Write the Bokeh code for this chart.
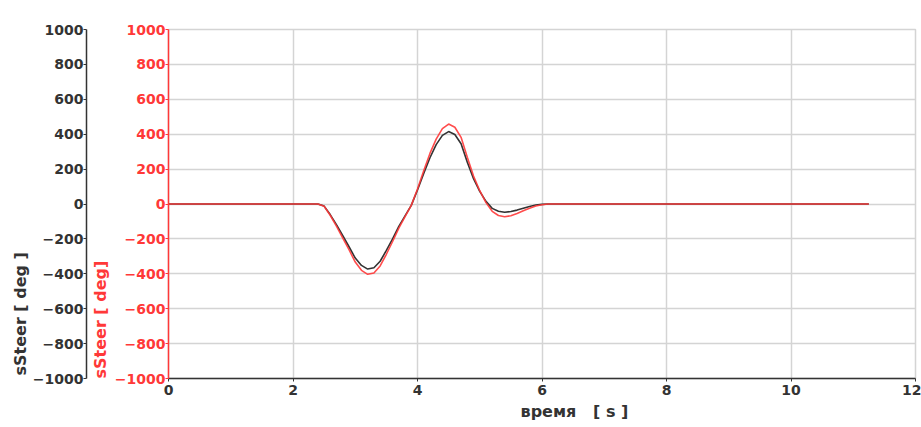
from bokeh.plotting import figure
from bokeh.models import LinearAxis, FixedTicker, Range1d, Title
from bokeh.embed import file_html
from bokeh.resources import INLINE

# time [s]
t = [0.0, 2.4, 2.5, 2.6, 2.7, 2.8, 2.9, 3.0, 3.1, 3.2, 3.3, 3.4, 3.5, 3.6, 3.7,
     3.8, 3.9, 4.0, 4.1, 4.2, 4.3, 4.4, 4.5, 4.6, 4.7, 4.8, 4.9, 5.0, 5.1,
     5.2, 5.3, 5.4, 5.5, 5.6, 5.7, 5.8, 5.9, 6.0, 6.1, 11.25]

# sSteer black series [deg]
steer_black = [0, 0, -12, -62, -120, -182, -245, -310, -352, -373, -365, -328,
               -266, -200, -128, -68, -8, 80, 175, 265, 340, 393, 415, 398,
               345, 240, 145, 72, 15, -25, -42, -47, -43, -35, -24, -14, -6,
               -2, 0, 0]

# sSteer red series [deg]
steer_red = [0, 0, -13, -66, -128, -195, -262, -333, -380, -403, -395, -355,
             -288, -215, -138, -72, -8, 86, 190, 290, 372, 432, 458, 440,
             382, 268, 160, 76, 8, -42, -66, -73, -67, -55, -39, -24, -11,
             -4, 0, 0]

x_ticks = [0, 2, 4, 6, 8, 10, 12]
y_ticks = [-1000, -800, -600, -400, -200, 0, 200, 400, 600, 800, 1000]
x_title = "время\u00a0\u00a0\u00a0[ s ]"
y_title_black = "sSteer [ deg ]"
y_title_red = "sSteer [ deg]"

RED = "#ff3838"
DARK = "#333333"
GRID = "#d4d4d4"
FONT = "DejaVu Sans"

p = figure(width=921, height=427, output_backend="svg",
           toolbar_location=None,
           x_range=Range1d(0, 12), y_range=Range1d(-1000, 1000),
           min_border_left=168, min_border_right=6, min_border_top=29,
           min_border_bottom=49)
p.background_fill_color = "white"
p.border_fill_color = "white"
p.outline_line_color = GRID
p.outline_line_width = 1.5

# grids
p.xgrid.ticker = FixedTicker(ticks=x_ticks)
p.ygrid.ticker = FixedTicker(ticks=y_ticks)
for g in (p.xgrid[0], p.ygrid[0]):
    g.grid_line_color = GRID
    g.grid_line_width = 1.5

# x axis
xa = p.xaxis[0]
xa.ticker = FixedTicker(ticks=x_ticks)
xa.major_label_text_font = FONT
xa.major_label_text_font_style = "bold"
xa.major_label_text_font_size = "14px"
xa.major_label_text_color = DARK
xa.major_label_text_align = "right"
xa.major_label_standoff = 3
xa.axis_line_color = DARK
xa.axis_line_width = 1.5
xa.major_tick_line_color = DARK
xa.major_tick_out = 3
xa.major_tick_in = 0
xa.minor_tick_line_color = None

p.add_layout(Title(text=x_title, align="left", offset=352, standoff=4,
                   text_font=FONT, text_font_style="bold",
                   text_font_size="16px", text_color=DARK), "below")

# inner (red) y axis
ra = p.yaxis[0]
p.add_layout(Title(text=y_title_red, align="left", offset=0, standoff=4,
                   text_font=FONT, text_font_style="bold",
                   text_font_size="16px", text_color=RED), "left")
# outer (black) y axis
ba = LinearAxis()
p.add_layout(ba, "left")
p.add_layout(Title(text=y_title_black, align="left", offset=3, standoff=0,
                   text_font=FONT, text_font_style="bold",
                   text_font_size="16px", text_color=DARK), "left")

for ax, col in ((ra, RED), (ba, DARK)):
    ax.ticker = FixedTicker(ticks=y_ticks)
    ax.major_label_text_font = FONT
    ax.major_label_text_font_style = "bold"
    ax.major_label_text_font_size = "14px"
    ax.major_label_text_color = col
    ax.major_label_text_baseline = "bottom"
    ax.major_label_standoff = 0
    ax.axis_line_color = col
    ax.axis_line_width = 1.5
    ax.major_tick_line_color = col
    ax.major_tick_out = 3
    ax.major_tick_in = 0
    ax.minor_tick_line_color = None

p.line(t, steer_black, line_color=DARK, line_width=1.6)
p.line(t, steer_red, line_color=RED, line_width=1.6, line_alpha=0.9)

open("out.html", "w").write(file_html(p, INLINE))
